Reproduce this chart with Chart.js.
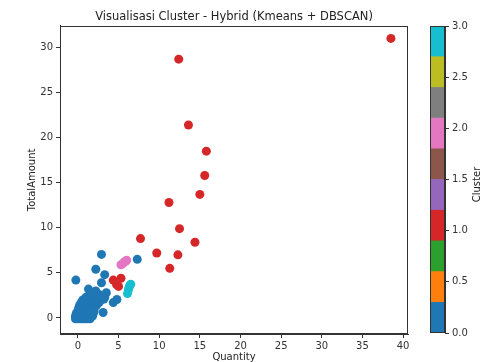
<!DOCTYPE html>
<html><head><meta charset="utf-8">
<script src="https://cdn.jsdelivr.net/npm/chart.js@4/dist/chart.umd.min.js"></script>
<style>
html,body{margin:0;padding:0;background:#fff;overflow:hidden;width:483px;height:362px;}
#main{position:absolute;left:0;top:0;}
#cbar{position:absolute;left:420px;top:0;}
</style></head><body>
<canvas id="main" width="468" height="372"></canvas>
<canvas id="cbar" width="63" height="362"></canvas>
<script>
const chartTitle = 'Visualisasi Cluster - Hybrid (Kmeans + DBSCAN)';
const xLabel = 'Quantity';
const yLabel = 'TotalAmount';
const cbarLabel = 'Cluster';
const clusterNames = ['0', '1', '2', '3'];
const clusterColors = ['#1f77b4', '#d62728', '#e377c2', '#17becf'];
const cbarColors = ['#1f77b4','#ff7f0e','#2ca02c','#d62728','#9467bd','#8c564b','#e377c2','#7f7f7f','#bcbd22','#17becf'];
const cbarSegment = [0.3,0.3,0.3,0.3,0.3,0.3,0.3,0.3,0.3,0.3];
const cbarTicks = [0, 0.5, 1.0, 1.5, 2.0, 2.5, 3.0];

// Cluster 0 (blue) - dense blob near origin plus a few spread points
const cluster0 = [
  [-0.3,-0.1],[0,-0.1],[0.3,-0.1],[0.6,-0.1],[0.9,-0.1],[1.2,-0.1],[1.5,-0.1],
  [-0.3,0.2],[0,0.2],[0.3,0.2],[0.6,0.2],[0.9,0.2],[1.2,0.2],[1.5,0.2],[1.8,0.2],
  [-0.2,0.5],[0.1,0.5],[0.4,0.5],[0.7,0.5],[1.0,0.5],[1.3,0.5],[1.6,0.5],[1.9,0.5],
  [0,0.8],[0.3,0.8],[0.6,0.8],[0.9,0.8],[1.2,0.8],[1.5,0.8],[1.8,0.8],[2.0,0.8],
  [0.1,1.1],[0.4,1.1],[0.7,1.1],[1.0,1.1],[1.3,1.1],[1.6,1.1],[1.9,1.1],
  [0.2,1.4],[0.5,1.4],[0.8,1.4],[1.1,1.4],[1.4,1.4],[1.7,1.4],[2.0,1.4],[2.3,1.4],
  [0.4,1.7],[0.7,1.7],[1.0,1.7],[1.3,1.7],[1.6,1.7],[1.9,1.7],[2.2,1.7],[2.6,1.7],
  [0.6,2.0],[0.9,2.0],[1.2,2.0],[1.5,2.0],[1.8,2.0],[2.1,2.0],[2.5,2.0],[2.9,2.0],[3.2,2.1],
  [1.0,2.3],[1.3,2.3],[1.6,2.3],[2.0,2.3],[2.4,2.3],[2.8,2.3],[3.3,2.3],
  [1.5,2.6],[2.0,2.6],[2.6,2.6],
  [1.3,3.2],[2.2,3.0],[3.5,2.8],[2.9,3.9],[3.3,4.8],[2.2,5.4],[-0.25,4.2],
  [2.9,7.05],[7.3,6.5],[4.8,2.05],[4.35,1.7],[3.1,0.6]
];
// Cluster 1 (red)
const cluster1 = [
  [38.5,31.0],[12.4,28.7],[13.6,21.4],[15.8,18.5],[15.6,15.8],[15.0,13.7],[11.2,12.8],
  [12.5,9.9],[7.7,8.8],[14.4,8.4],[9.7,7.2],[12.3,7.0],[11.3,5.5],
  [4.35,4.2],[5.3,4.4],[4.75,3.7],[5.0,3.5]
];
// Cluster 2 (pink)
const cluster2 = [[5.3,5.9],[5.5,6.0],[5.7,6.2],[5.9,6.3],[6.0,6.4]];
// Cluster 3 (cyan)
const cluster3 = [[6.1,2.7],[6.2,3.1],[6.3,3.4],[6.4,3.6],[6.5,3.75]];

const clusters = [cluster0, cluster1, cluster2, cluster3];
const fontFam = '"DejaVu Sans", sans-serif';
const axisColor = '#333';

const framePlugin = {
  id: 'frame',
  afterDraw(chart) {
    const {ctx, chartArea: a} = chart;
    ctx.save();
    ctx.strokeStyle = axisColor;
    ctx.lineWidth = 1;
    ctx.strokeRect(Math.round(a.left) + 0.5, Math.round(a.top) + 0.5, Math.round(a.right - a.left) - 1, Math.round(a.bottom - a.top) - 1);
    ctx.restore();
  }
};

new Chart(document.getElementById('main'), {
  type: 'scatter',
  data: {
    datasets: clusters.map((pts, i) => ({
      label: clusterNames[i],
      data: pts.map(p => ({x: p[0], y: p[1]})),
      backgroundColor: clusterColors[i],
      borderWidth: 0,
      pointRadius: 4.5,
      pointHoverRadius: 4.5
    }))
  },
  options: {
    responsive: false,
    animation: false,
    events: [],
    layout: {padding: {left: 0, right: 60, top: 0, bottom: 0}},
    plugins: {
      legend: {display: false},
      tooltip: {enabled: false},
      title: {
        display: true, text: chartTitle, color: '#222', fullSize: false,
        font: {family: fontFam, size: 11.5, weight: 'normal'},
        padding: {top: 10, bottom: 2}
      }
    },
    scales: {
      x: {
        type: 'linear', min: -2.2, max: 40.6,
        afterFit: s => { s.height = 38; },
        ticks: {stepSize: 5, includeBounds: false, color: axisColor, padding: 2,
          font: {family: fontFam, size: 10}, maxRotation: 0},
        grid: {drawOnChartArea: false, tickLength: 4, color: axisColor},
        border: {color: axisColor},
        title: {display: true, text: xLabel, color: '#222', font: {family: fontFam, size: 10}, padding: {top: 0, bottom: 9}}
      },
      y: {
        type: 'linear', min: -1.78, max: 32.4,
        afterFit: s => { s.width = 60; },
        ticks: {stepSize: 5, includeBounds: false, color: axisColor, padding: 3,
          font: {family: fontFam, size: 10}},
        grid: {drawOnChartArea: false, tickLength: 4, color: axisColor},
        border: {color: axisColor},
        title: {display: true, text: yLabel, color: '#222', font: {family: fontFam, size: 10}, padding: {top: 26, bottom: 0}}
      }
    }
  },
  plugins: [framePlugin]
});

const cbarTitlePlugin = {
  id: 'cbarTitle',
  afterDraw(chart) {
    const {ctx, chartArea: a} = chart;
    ctx.save();
    ctx.fillStyle = '#222';
    ctx.font = '10px ' + fontFam;
    ctx.textAlign = 'center';
    ctx.textBaseline = 'middle';
    ctx.translate(57, (a.top + a.bottom) / 2 + 5);
    ctx.rotate(-Math.PI / 2);
    ctx.fillText(cbarLabel, 0, 0);
    ctx.restore();
  }
};

new Chart(document.getElementById('cbar'), {
  type: 'bar',
  data: {
    labels: [''],
    datasets: cbarColors.map((c, i) => ({
      data: [cbarSegment[i]],
      backgroundColor: c,
      borderWidth: 0,
      barPercentage: 1,
      categoryPercentage: 1
    }))
  },
  options: {
    responsive: false,
    animation: false,
    events: [],
    layout: {padding: {left: 10, right: 0, top: 26, bottom: 29}},
    plugins: {legend: {display: false}, tooltip: {enabled: false}},
    scales: {
      x: {display: false, stacked: true},
      y: {
        stacked: true, position: 'right', min: 0, max: 3,
        afterFit: s => { s.width = 38; },
        afterBuildTicks: s => { s.ticks = cbarTicks.map(v => ({value: v})); },
        ticks: {color: axisColor, padding: 3, font: {family: fontFam, size: 10},
          callback: v => Number(v).toFixed(1)},
        grid: {drawOnChartArea: false, tickLength: 4, color: axisColor},
        border: {color: axisColor}
      }
    }
  },
  plugins: [framePlugin, cbarTitlePlugin]
});
</script>
</body></html>
